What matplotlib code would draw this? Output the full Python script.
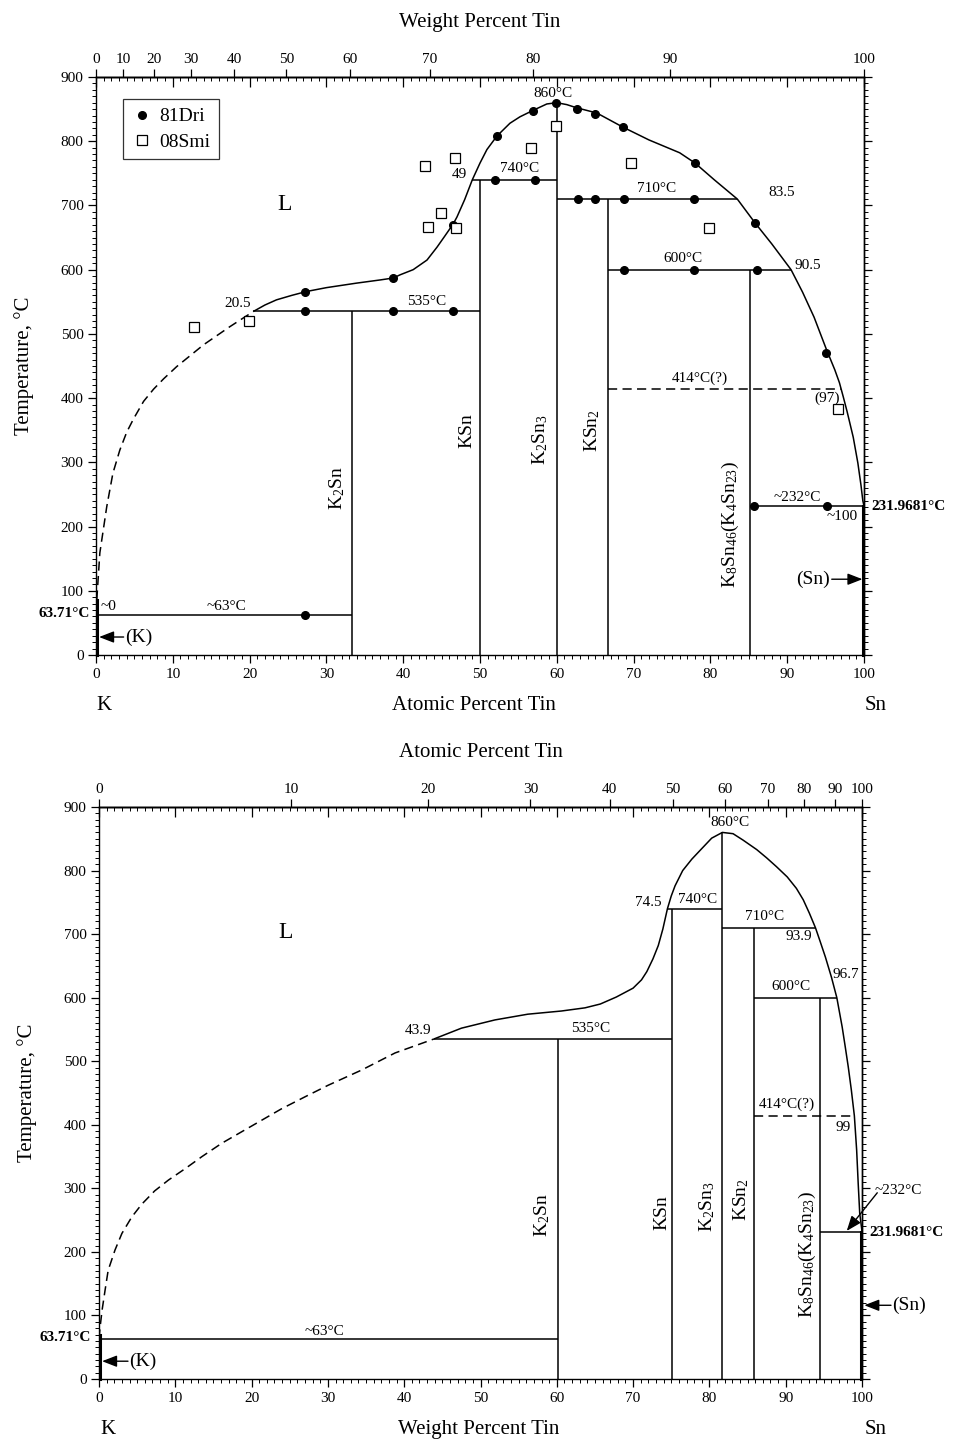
import numpy as np
import matplotlib
matplotlib.use("Agg")
import matplotlib.pyplot as plt
from matplotlib.ticker import MultipleLocator, NullFormatter, NullLocator
from matplotlib.lines import Line2D

plt.rcParams['font.family'] = ['Liberation Serif', 'DejaVu Serif']
plt.rcParams['mathtext.fontset'] = 'custom'
plt.rcParams['mathtext.rm'] = 'Liberation Serif'
plt.rcParams['mathtext.it'] = 'Liberation Serif:italic'
plt.rcParams['axes.linewidth'] = 1.0

# ---------------- data: top panel (atomic percent Sn) ----------------
at_liq_dash_x = [0, 0.15, 0.3, 0.5, 1.4, 2.2, 3.1, 4.0, 4.9, 6.2, 7.5, 8.8,
                 10.5, 14.0, 17.4, 20.5]
at_liq_dash_t = [63.71, 95, 122, 159, 231, 283, 319, 347, 368, 395, 414, 430,
                 449, 483, 511, 535]
at_liq_x = [20.5, 22, 23.5, 25.5, 27.4, 30, 33.9, 37.0, 38.7, 39.6, 41.3, 43.1,
            44.4, 45.4, 46.5, 47.0, 48.0, 49.0, 50.0, 50.9, 52.2, 53.9, 55.2,
            56.9, 58.7, 60.0, 61.3, 62.6, 65.2, 68.6, 72, 76, 78, 80.5, 83.5,
            85.8, 88, 90.5, 92, 93.5, 95.1, 96.2, 96.8, 97.3, 97.8, 98.6, 99.2,
            99.6, 99.85, 100]
at_liq_t = [535, 545, 553, 560, 566, 572, 579, 584, 587, 592, 600, 615,
            635, 652, 671, 682, 709, 740, 766, 787, 808, 828, 838,
            848, 858, 860, 857, 852, 844, 822, 802, 782, 766, 740, 710,
            673, 640, 600, 565, 526, 476, 444, 424, 402, 379, 339, 299,
            265, 240, 232]

at_dri_x = [27.2, 27.2, 38.7, 38.7, 46.5, 46.5, 52.0, 52.2, 57.2, 56.9, 59.9, 62.6,
            65.0, 68.6, 78.0, 62.8, 65.0, 68.75, 77.9, 85.8, 68.75, 77.9, 86.1,
            95.1, 85.7, 95.2, 27.2]
at_dri_t = [565, 535, 587, 535, 535, 670, 740, 808, 740, 847, 860, 850,
            842, 822, 766, 710, 710, 710, 710, 673, 600, 600, 600,
            470, 232, 232, 63]
at_smi_x = [12.8, 19.9, 42.8, 46.7, 44.9, 43.2, 46.9, 56.6, 59.9, 69.7, 79.8, 96.6]
at_smi_t = [510, 520, 761, 774, 688, 667, 665, 790, 824, 766, 665, 383]

at_phase_x = [33.3, 50.0, 60.0, 66.7, 85.2]
at_phase_top = [535, 740, 860, 710, 600]
at_phase_lbl = [r'K$_2$Sn', 'KSn', r'K$_2$Sn$_3$', r'KSn$_2$', r'K$_8$Sn$_{46}$(K$_4$Sn$_{23}$)']
at_phase_lbl_x = [31.4, 48.3, 57.8, 64.6, 82.6]
at_phase_lbl_t = [260, 350, 335, 350, 203]

# horizontal invariant lines: (x_start, x_end, T)
at_iso_x0 = [0, 20.5, 49, 60, 66.7, 85.2]
at_iso_x1 = [33.3, 50, 60, 83.5, 90.5, 100]
at_iso_t = [63, 535, 740, 710, 600, 232]
at_dash_iso = (66.7, 97, 414)

# ---------------- data: bottom panel (weight percent Sn) ----------------
wt_liq_dash_x = [0, 0.15, 0.4, 0.8, 1.2, 2.1, 3.0, 4.3, 5.6, 7.3, 9.1, 11.3,
                 13.5, 16.1, 18.7, 21.3, 23.9, 27.0, 30.0, 34.4, 38.8, 43.9]
wt_liq_dash_t = [63.71, 82, 108, 140, 171, 203, 229, 255, 275, 296, 313, 331,
                 350, 371, 389, 407, 425, 444, 462, 486, 513, 535]
wt_liq_x = [43.9, 47.5, 51.9, 56.2, 60.6, 63.7, 65.7, 67.8, 70.0, 71.1, 71.8,
            72.6, 73.3, 73.9, 74.5, 75.0, 75.5, 76.5, 77.7, 78.8, 80.3, 81.7,
            83.1, 84.4, 86.2, 87.5, 88.8, 90.2, 91.4, 92.3, 93.1, 93.9, 94.5,
            95.2, 96.0, 96.7, 97.4, 97.8, 98.2, 98.6, 99.0, 99.3, 99.5, 99.7,
            100]
wt_liq_t = [535, 552, 565, 574, 579, 584, 590, 601, 615, 628, 641,
            661, 682, 708, 740, 760, 776, 800, 818, 832, 851, 860,
            858, 848, 833, 820, 806, 790, 772, 754, 733, 710, 689,
            664, 632, 600, 554, 523, 491, 455, 414, 360, 308, 261,
            232]

wt_phase_x = [60.2, 75.1, 81.7, 85.8, 94.5]
wt_phase_top = [535, 740, 860, 710, 600]
wt_phase_lbl_x = [58.1, 73.8, 79.7, 84.1, 92.9]
wt_phase_lbl_t = [258, 261, 271, 282, 196]

wt_iso_x0 = [0, 43.9, 74.5, 81.7, 85.8, 94.5]
wt_iso_x1 = [60.2, 75.1, 81.7, 93.9, 96.7, 100]
wt_iso_t = [63, 535, 740, 710, 600, 232]
wt_dash_iso = (85.8, 99, 414)

top_ticks = list(range(0, 101, 10))

M_K, M_SN = 39.0983, 118.71


def at2wt(a):
    a = np.clip(np.asarray(a, dtype=float), 0, 100)
    return 100 * a * M_SN / (a * M_SN + (100 - a) * M_K)


def wt2at(w):
    w = np.clip(np.asarray(w, dtype=float), 0, 100)
    return 100 * (w / M_SN) / (w / M_SN + (100 - w) / M_K)


LW = 1.1
FS_TICK = 11
FS_ANN = 11
FS_TITLE = 15

fig = plt.figure(figsize=(9.55, 14.43), dpi=100)
ax1 = fig.add_axes([96 / 955, 1 - 655 / 1443, 768 / 955, 578 / 1443])
ax2 = fig.add_axes([99 / 955, 1 - 1379 / 1443, 763 / 955, 572 / 1443])


def setup(ax, f, finv):
    ax.set_xlim(0, 100)
    ax.set_ylim(0, 900)
    ax.xaxis.set_major_locator(MultipleLocator(10))
    ax.xaxis.set_minor_locator(MultipleLocator(1))
    ax.yaxis.set_major_locator(MultipleLocator(100))
    ax.yaxis.set_minor_locator(MultipleLocator(10))
    ax.tick_params(which='major', direction='out', length=6, width=0.9,
                   labelsize=FS_TICK, pad=3)
    ax.tick_params(which='minor', direction='out', length=3, width=0.7)
    # mirrored top ticks (inward)
    s1 = ax.secondary_xaxis('top')
    s1.xaxis.set_major_locator(MultipleLocator(10))
    s1.xaxis.set_minor_locator(MultipleLocator(1))
    s1.xaxis.set_major_formatter(NullFormatter())
    s1.tick_params(which='major', direction='in', length=7, width=0.9)
    s1.tick_params(which='minor', direction='in', length=3, width=0.7)
    # labelled other-scale top axis
    s2 = ax.secondary_xaxis('top', functions=(f, finv))
    s2.set_xticks(top_ticks)
    s2.xaxis.set_minor_locator(NullLocator())
    s2.tick_params(which='major', direction='out', length=6, width=0.9,
                   labelsize=FS_TICK, pad=2)
    # right mirrored ticks
    s3 = ax.secondary_yaxis('right')
    s3.yaxis.set_major_locator(MultipleLocator(100))
    s3.yaxis.set_minor_locator(MultipleLocator(10))
    s3.yaxis.set_major_formatter(NullFormatter())
    s3.tick_params(which='major', direction='out', length=6, width=0.9)
    s3.tick_params(which='minor', direction='out', length=3, width=0.7)


setup(ax1, at2wt, wt2at)
setup(ax2, wt2at, at2wt)

arrow_kw = dict(arrowstyle='-|>,head_length=0.9,head_width=0.35', color='k',
                lw=1.0, shrinkA=0, shrinkB=0)
line_kw = dict(color='k', lw=LW, solid_joinstyle='round', solid_capstyle='butt')

# ---------------- top panel ----------------
ax = ax1
ax.plot(at_liq_dash_x, at_liq_dash_t, color='k', ls='--', lw=LW, dashes=(6, 3.5))
ax.plot(at_liq_x, at_liq_t, **line_kw)
for x, t in zip(at_phase_x, at_phase_top):
    ax.plot([x, x], [0, t], **line_kw)
for x0, x1, t in zip(at_iso_x0, at_iso_x1, at_iso_t):
    ax.plot([x0, x1], [t, t], **line_kw)
ax.plot([at_dash_iso[0], at_dash_iso[1]], [at_dash_iso[2]] * 2, color='k',
        ls='--', lw=LW, dashes=(6, 3.5))
ax.plot([0.15, 0.15], [0, 85], 'k-', lw=2.2, clip_on=False)
ax.plot([99.85, 99.85], [0, 232], 'k-', lw=2.2, clip_on=False)
ax.plot(at_dri_x, at_dri_t, 'o', color='k', ms=5.5, ls='none')
ax.plot(at_smi_x, at_smi_t, 's', mfc='white', mec='k', mew=0.9, ms=6.5, ls='none')

for lbl, x, t in zip(at_phase_lbl, at_phase_lbl_x, at_phase_lbl_t):
    ax.text(x, t, lbl, rotation=90, ha='center', va='center', fontsize=14)

ann = [('860°C', 59.5, 875), ('740°C', 55.2, 758), ('49', 47.3, 748),
       ('710°C', 73.0, 727), ('83.5', 89.3, 720), ('600°C', 76.4, 618),
       ('90.5', 92.7, 606), ('535°C', 43.0, 550), ('20.5', 18.4, 548),
       ('414°C(?)', 78.6, 431), ('(97)', 95.2, 400), ('~232°C', 91.3, 245),
       ('~100', 97.1, 215), ('~0', 1.6, 75), ('~63°C', 17.0, 75)]
for s, x, t in ann:
    ax.text(x, t, s, ha='center', va='center', fontsize=FS_ANN)
ax.text(24.6, 701, 'L', ha='center', va='center', fontsize=17)
ax.text(101.0, 231, '231.9681°C', ha='left', va='center', fontsize=11,
        fontweight='bold', clip_on=False)
ax.text(-0.8, 64, '63.71°C', ha='right', va='center', fontsize=11,
        fontweight='bold', clip_on=False)
ax.annotate('', xy=(0.4, 28), xytext=(3.6, 28), arrowprops=arrow_kw)
ax.text(3.8, 28, '(K)', ha='left', va='center', fontsize=14)
ax.annotate('', xy=(99.8, 118), xytext=(95.8, 118), arrowprops=arrow_kw)
ax.text(95.6, 118, '(Sn)', ha='right', va='center', fontsize=14)

ax.legend(handles=[Line2D([], [], marker='o', color='k', ls='none', ms=5.5),
                   Line2D([], [], marker='s', mfc='white', mec='k', mew=0.9,
                          ls='none', ms=6.5)],
          labels=['81Dri', '08Smi'], loc='upper left',
          bbox_to_anchor=(0.035, 0.962), frameon=True, fancybox=False,
          edgecolor='k', fontsize=14, handletextpad=0.3, borderpad=0.45,
          labelspacing=0.4, handlelength=1.1, borderaxespad=0)
ax.get_legend().get_frame().set_linewidth(0.9)

ax.text(0.492, -0.088, 'Atomic Percent Tin', transform=ax.transAxes,
        ha='center', va='center', fontsize=FS_TITLE)
ax.text(0.0104, -0.088, 'K', transform=ax.transAxes, ha='center', va='center',
        fontsize=FS_TITLE)
ax.text(1.0156, -0.088, 'Sn', transform=ax.transAxes, ha='center', va='center',
        fontsize=FS_TITLE)
ax.text(0.5, 1.095, 'Weight Percent Tin', transform=ax.transAxes,
        ha='center', va='center', fontsize=FS_TITLE)
ax.text(-0.094, 0.5, 'Temperature, °C', transform=ax.transAxes, rotation=90,
        ha='center', va='center', fontsize=FS_TITLE)

# ---------------- bottom panel ----------------
ax = ax2
ax.plot(wt_liq_dash_x, wt_liq_dash_t, color='k', ls='--', lw=LW, dashes=(6, 3.5))
ax.plot(wt_liq_x, wt_liq_t, **line_kw)
for x, t in zip(wt_phase_x, wt_phase_top):
    ax.plot([x, x], [0, t], **line_kw)
for x0, x1, t in zip(wt_iso_x0, wt_iso_x1, wt_iso_t):
    ax.plot([x0, x1], [t, t], **line_kw)
ax.plot([wt_dash_iso[0], wt_dash_iso[1]], [wt_dash_iso[2]] * 2, color='k',
        ls='--', lw=LW, dashes=(6, 3.5))
ax.plot([0.15, 0.15], [0, 70], 'k-', lw=2.2, clip_on=False)
ax.plot([99.85, 99.85], [0, 232], 'k-', lw=2.2, clip_on=False)

for lbl, x, t in zip(at_phase_lbl, wt_phase_lbl_x, wt_phase_lbl_t):
    ax.text(x, t, lbl, rotation=90, ha='center', va='center', fontsize=14)

ann2 = [('860°C', 82.7, 875), ('74.5', 72.0, 749), ('740°C', 78.5, 754),
        ('710°C', 87.2, 727), ('93.9', 91.7, 697), ('96.7', 97.9, 636),
        ('600°C', 90.7, 617), ('414°C(?)', 90.2, 433), ('99', 97.5, 396),
        ('43.9', 41.8, 548), ('535°C', 64.4, 552), ('~63°C', 29.6, 75)]
for s, x, t in ann2:
    ax.text(x, t, s, ha='center', va='center', fontsize=FS_ANN)
ax.text(24.4, 702, 'L', ha='center', va='center', fontsize=17)
ax.text(101.0, 230, '231.9681°C', ha='left', va='center', fontsize=11,
        fontweight='bold', clip_on=False)
ax.text(-1.0, 65, '63.71°C', ha='right', va='center', fontsize=11,
        fontweight='bold', clip_on=False)
ax.annotate('', xy=(0.4, 28), xytext=(3.8, 28), arrowprops=arrow_kw)
ax.text(4.0, 28, '(K)', ha='left', va='center', fontsize=14)
ax.annotate('', xy=(100.3, 116), xytext=(103.8, 116), arrowprops=arrow_kw,
            annotation_clip=False)
ax.text(104.0, 116, '(Sn)', ha='left', va='center', fontsize=14, clip_on=False)
ax.annotate('', xy=(98.0, 233), xytext=(102.0, 293), arrowprops=arrow_kw,
            annotation_clip=False)
ax.text(101.6, 296, '~232°C', ha='left', va='center', fontsize=FS_ANN,
        clip_on=False)

ax.text(0.498, -0.089, 'Weight Percent Tin', transform=ax.transAxes,
        ha='center', va='center', fontsize=FS_TITLE)
ax.text(0.0118, -0.089, 'K', transform=ax.transAxes, ha='center', va='center',
        fontsize=FS_TITLE)
ax.text(1.018, -0.089, 'Sn', transform=ax.transAxes, ha='center', va='center',
        fontsize=FS_TITLE)
ax.text(0.5, 1.096, 'Atomic Percent Tin', transform=ax.transAxes,
        ha='center', va='center', fontsize=FS_TITLE)
ax.text(-0.094, 0.5, 'Temperature, °C', transform=ax.transAxes, rotation=90,
        ha='center', va='center', fontsize=FS_TITLE)

fig.savefig('out.png', dpi=100)
